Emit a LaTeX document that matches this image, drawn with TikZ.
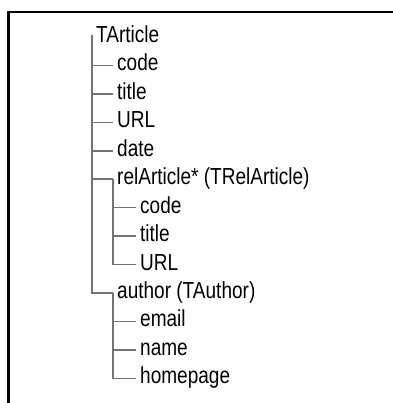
\documentclass[tikz,border=0pt]{standalone}
\usepackage{fontspec}
\setmainfont[FakeStretch=0.82]{Liberation Sans}
\usepackage{xcolor}
\usepackage{tikz}
\usetikzlibrary{positioning}

\begin{document}
\begin{tikzpicture}[
    x=1bp, y=-1bp,
    field/.style={anchor=west, inner xsep=4bp, inner ysep=0pt, text height=16bp, text depth=5bp,
        font=\fontsize{23.2bp}{27bp}\selectfont},
    conn/.style={draw=black!55, line width=1.6bp}
]
\useasboundingbox (0,0) rectangle (393,403);

% frame
\draw[line width=2bp] (8.5,405) -- (8.5,12) -- (395,12);

\node[field] (art) at (92, 36.9) {TArticle};
\node[field] (code) at (113, 65.4) {code};
\node[field] (title) at (113, 93.8) {title};
\node[field] (url) at (113, 122.3) {URL};
\node[field] (date) at (113, 150.7) {date};
\node[field] (rel) at (113, 179.2) {relArticle* (TRelArticle)};
\node[field] (relcode) at (136, 207.6) {code};
\node[field] (reltitle) at (136, 236.1) {title};
\node[field] (relurl) at (136, 264.5) {URL};
\node[field] (author) at (113, 293.0) {author (TAuthor)};
\node[field] (email) at (136, 321.4) {email};
\node[field] (name) at (136, 349.9) {name};
\node[field] (homepage) at (136, 378.3) {homepage};

% main branch
\draw[conn] ([yshift=2bp]art.west) |- (author.west);
\draw[conn] (art.west |- code.west) -- (code.west);
\draw[conn] (art.west |- title.west) -- (title.west);
\draw[conn] (art.west |- url.west) -- (url.west);
\draw[conn] (art.west |- date.west) -- (date.west);
\draw[conn] (art.west |- rel.west) -- (rel.west);

% relArticle branch
\draw[conn] (rel.west) |- (relurl.west);
\draw[conn] (rel.west |- relcode.west) -- (relcode.west);
\draw[conn] (rel.west |- reltitle.west) -- (reltitle.west);

% author branch
\draw[conn] (author.west) |- (homepage.west);
\draw[conn] (author.west |- email.west) -- (email.west);
\draw[conn] (author.west |- name.west) -- (name.west);

\end{tikzpicture}
\end{document}
